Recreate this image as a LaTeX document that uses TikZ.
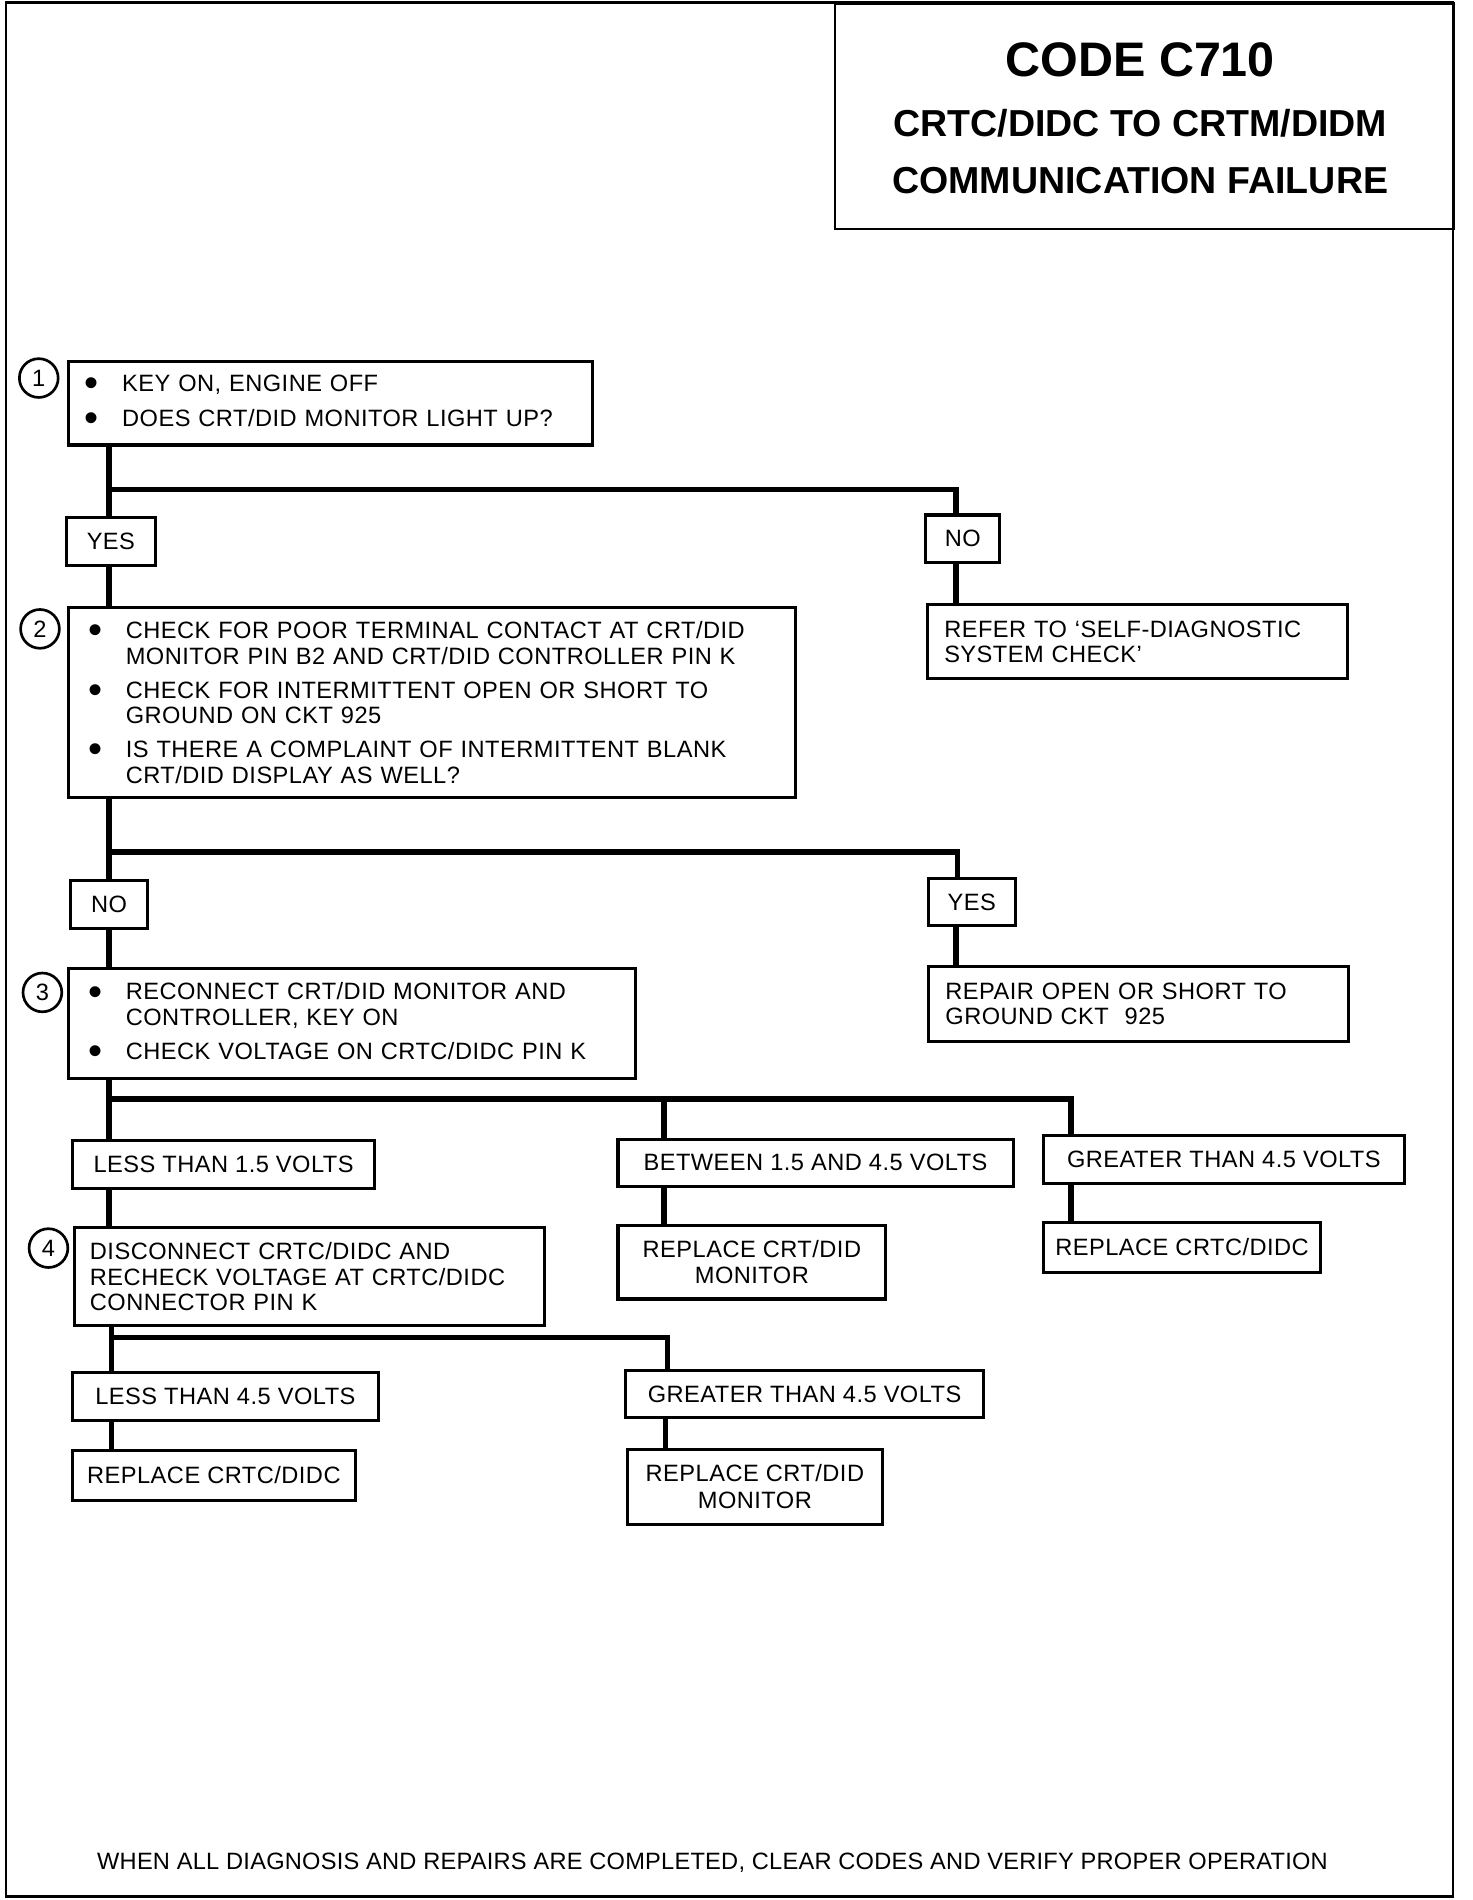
\documentclass[tikz,border=0pt]{standalone}
\usepackage{fontspec}
\usepackage{graphicx}
\setmainfont{Liberation Sans}
\newfontfamily\bodyfont[LetterSpace=2.0]{Liberation Sans}
\newfontfamily\footfont[LetterSpace=1.0]{Liberation Sans}
\newcommand\bitem{\makebox[31pt][l]{\raisebox{-4.2pt}{\scalebox{1.7}{\textbullet}}}}
\newcommand\bcont{\hspace*{31pt}}
\tikzset{
  frameline/.style={line width=2pt},
  conn/.style={line width=4.5pt, line join=miter},
  tbox/.style={draw, line width=2.5pt, anchor=north west, inner ysep=0pt, align=left,
    font=\bodyfont\fontsize{19.5}{21}\selectfont},
  lbox/.style={draw, line width=2.5pt, inner sep=0pt, align=center,
    font=\bodyfont\fontsize{19.5}{22}\selectfont},
  stepnum/.style={draw, circle, line width=2.2pt, minimum size=32pt, inner sep=0pt,
    font=\fontsize{19.5}{20}\selectfont},
  titletxt/.style={anchor=base, inner sep=0pt, font=\bfseries},
}
\begin{document}
\begin{tikzpicture}[x=1pt,y=-1pt]
\useasboundingbox (0,0) rectangle (1215,1568);
% outer frame
\draw[frameline] (5,2) rectangle (1199,1565);
% title
\node[draw, frameline, anchor=north west, minimum width=511pt, minimum height=186pt, inner sep=0pt] (title) at (688,2) {};
\node[titletxt, font=\bfseries\fontsize{40}{44}\selectfont] (code) at (941,63) {CODE C710};
\node[titletxt, font=\bfseries\fontsize{31}{34}\selectfont] (sub1) at (941,113) {CRTC/DIDC TO CRTM/DIDM};
\node[titletxt, font=\bfseries\fontsize{31}{34}\selectfont] (sub2) at (941,160) {COMMUNICATION FAILURE};

% step circles
\node[stepnum] (c1) at (32,312) {1};
\node[stepnum] (c2) at (33,519) {2};
\node[stepnum] (c3) at (35,819) {3};
\node[stepnum] (c4) at (40,1030) {4};

% step boxes
\node[tbox, minimum width=433pt, minimum height=69pt, inner xsep=13.6pt, text width=405.8pt] (b1) at (55,297)
  {\bitem KEY ON, ENGINE OFF\\[8pt]\bitem DOES CRT/DID MONITOR LIGHT UP?};
\node[tbox, minimum width=600pt, minimum height=157pt, inner xsep=16.6pt, text width=566.8pt] (b2) at (55,500)
  {\bitem CHECK FOR POOR TERMINAL CONTACT AT CRT/DID\\
   \bcont MONITOR PIN B2 AND CRT/DID CONTROLLER PIN K\\[7pt]
   \bitem CHECK FOR INTERMITTENT OPEN OR SHORT TO\\
   \bcont GROUND ON CKT 925\\[7pt]
   \bitem IS THERE A COMPLAINT OF INTERMITTENT BLANK\\
   \bcont CRT/DID DISPLAY AS WELL?};
\node[tbox, minimum width=468pt, minimum height=91pt, inner xsep=16.6pt, text width=434.8pt] (b3) at (55,798)
  {\bitem RECONNECT CRT/DID MONITOR AND\\
   \bcont CONTROLLER, KEY ON\\[7pt]
   \bitem CHECK VOLTAGE ON CRTC/DIDC PIN K};
\node[tbox, minimum width=388pt, minimum height=81pt, inner xsep=13pt, text width=362pt] (b4) at (60,1012)
  {DISCONNECT CRTC/DIDC AND\\
   RECHECK VOLTAGE AT CRTC/DIDC\\
   CONNECTOR PIN K};
\node[tbox, minimum width=347pt, minimum height=61pt, inner xsep=14pt, text width=319pt] (refer) at (764,498)
  {REFER TO ‘SELF-DIAGNOSTIC\\SYSTEM CHECK’};
\node[tbox, minimum width=347pt, minimum height=62pt, inner xsep=14pt, text width=319pt] (repair) at (765,796)
  {REPAIR OPEN OR SHORT TO\\GROUND CKT\ \ 925};

% label / result boxes
\node[lbox, minimum width=73pt, minimum height=40pt] (yes1) at (91.5,447) {YES};
\node[lbox, minimum width=61pt, minimum height=39pt] (no1) at (794.5,444.5) {NO};
\node[lbox, minimum width=64pt, minimum height=39pt] (no2) at (90,746.5) {NO};
\node[lbox, minimum width=72pt, minimum height=39pt] (yes2) at (802,744.5) {YES};
\node[lbox, minimum width=249pt, minimum height=40pt] (less1) at (184.5,961) {LESS THAN 1.5 VOLTS};
\node[lbox, minimum width=326pt, minimum height=39pt] (betw) at (673,959.5) {BETWEEN 1.5 AND 4.5 VOLTS};
\node[lbox, minimum width=298pt, minimum height=40pt] (great1) at (1010,957) {GREATER THAN 4.5 VOLTS};
\node[lbox, minimum width=221pt, minimum height=61pt] (rmon1) at (620.5,1041.5) {REPLACE CRT/DID\\MONITOR};
\node[lbox, minimum width=229pt, minimum height=41pt] (rctl1) at (975.5,1029.5) {REPLACE CRTC/DIDC};
\node[lbox, minimum width=252pt, minimum height=39pt] (less2) at (186,1152.5) {LESS THAN 4.5 VOLTS};
\node[lbox, minimum width=296pt, minimum height=39pt] (great2) at (664,1150.5) {GREATER THAN 4.5 VOLTS};
\node[lbox, minimum width=233pt, minimum height=41pt] (rctl2) at (176.5,1217.5) {REPLACE CRTC/DIDC};
\node[lbox, minimum width=210pt, minimum height=62pt] (rmon2) at (623,1227) {REPLACE CRT/DID\\MONITOR};

% junction coordinates
\coordinate (j1) at (90,404);   \coordinate (j1r) at (789,404);
\coordinate (j2) at (90,703);   \coordinate (j2r) at (790,703);
\coordinate (j3) at (90,907);   \coordinate (j3m) at (548,907); \coordinate (j3r) at (884,907);
\coordinate (j4) at (92,1104);  \coordinate (j4r) at (551,1104);

% connectors step 1
\draw[conn] (b1.south -| j1) -- (yes1.north -| j1);
\draw[conn] (j1) -- (j1r) -- (no1.north -| j1r);
\draw[conn] (yes1.south -| j1) -- (b2.north -| j1);
\draw[conn] (no1.south -| j1r) -- (refer.north -| j1r);
% step 2
\draw[conn] (b2.south -| j2) -- (no2.north -| j2);
\draw[conn] (j2) -- (j2r) -- (yes2.north -| j2r);
\draw[conn] (no2.south -| j2) -- (b3.north -| j2);
\draw[conn] (yes2.south -| j1r) -- (repair.north -| j1r);
% step 3
\draw[conn] (b3.south -| j3) -- (less1.north -| j3);
\draw[conn] (j3) -- (j3r) -- (great1.north -| j3r);
\draw[conn] (j3m) -- (betw.north -| j3m);
\draw[conn] (less1.south -| j3) -- (b4.north -| j3);
\draw[conn] (betw.south -| j3m) -- (rmon1.north -| j3m);
\draw[conn] (great1.south -| j3r) -- (rctl1.north -| j3r);
% step 4
\draw[conn] (b4.south -| j4) -- (less2.north -| j4);
\draw[conn] (j4) -- (j4r) -- (great2.north -| j4r);
\draw[conn] (less2.south -| j4) -- (rctl2.north -| j4);
\draw[conn] ([xshift=-2pt]great2.south -| j4r) -- ([xshift=-2pt]rmon2.north -| j4r);

% footer
\node[font=\footfont\fontsize{19.5}{21}\selectfont, inner sep=0pt] (foot) at (588,1537)
  {WHEN ALL DIAGNOSIS AND REPAIRS ARE COMPLETED, CLEAR CODES AND VERIFY PROPER OPERATION};
\end{tikzpicture}
\end{document}
